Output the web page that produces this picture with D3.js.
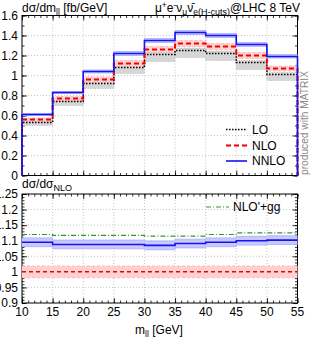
<!DOCTYPE html>
<html>
<head>
<meta charset="utf-8">
<script src="https://cdn.jsdelivr.net/npm/d3@7"></script>
<style>
  body { margin: 0; background: #fff; }
  text { font-family: "Liberation Sans", Arial, sans-serif; }
</style>
</head>
<body>
<script>
// bin edges in m_ll [GeV]
var edges = [10, 15, 20, 25, 30, 35, 40, 45, 50, 55]

// dsigma/dm_ll [fb/GeV]
var lo = [0.53, 0.74, 0.92, 1.08, 1.21, 1.25, 1.22, 1.13, 1.01]
var loLow = [0.50, 0.70, 0.87, 1.02, 1.14, 1.18, 1.15, 1.06, 0.95]
var loHigh = [0.545, 0.755, 0.94, 1.10, 1.235, 1.275, 1.245, 1.15, 1.03]
var nlo = [0.56, 0.77, 0.96, 1.12, 1.26, 1.32, 1.29, 1.20, 1.07]
var nloLow = [0.545, 0.75, 0.935, 1.09, 1.23, 1.29, 1.26, 1.17, 1.045]
var nloHigh = [0.575, 0.79, 0.985, 1.15, 1.29, 1.35, 1.32, 1.23, 1.095]
var nnlo = [0.61, 0.83, 1.04, 1.22, 1.35, 1.43, 1.40, 1.31, 1.19]
var nnloLow = [0.60, 0.82, 1.025, 1.20, 1.33, 1.41, 1.38, 1.29, 1.175]
var nnloHigh = [0.62, 0.84, 1.055, 1.24, 1.37, 1.45, 1.42, 1.33, 1.21]

// ratio to NLO
var ratioNLOLow = [0.981, 0.981, 0.981, 0.981, 0.981, 0.981, 0.981, 0.981, 0.981]
var ratioNLOHigh = [1.019, 1.019, 1.019, 1.019, 1.019, 1.019, 1.019, 1.019, 1.019]
var ratioNLO = [1, 1, 1, 1, 1, 1, 1, 1, 1]
var ratioNNLO = [1.095, 1.088, 1.088, 1.088, 1.085, 1.091, 1.095, 1.100, 1.102]
var ratioNNLOLow = [1.081, 1.074, 1.074, 1.074, 1.071, 1.077, 1.081, 1.086, 1.088]
var ratioNNLOHigh = [1.109, 1.102, 1.102, 1.102, 1.099, 1.105, 1.109, 1.114, 1.116]
var ratioGG = [1.120, 1.117, 1.117, 1.117, 1.115, 1.115, 1.120, 1.125, 1.125]

var xTicks = [10, 15, 20, 25, 30, 35, 40, 45, 50, 55]
var yTopTicks = [0, 0.2, 0.4, 0.6, 0.8, 1, 1.2, 1.4, 1.6]
var yBotTicks = [0.9, 0.95, 1, 1.05, 1.1, 1.15, 1.2, 1.25]

var W = 311, H = 340
var left = 22, right = 297.5
var svg = d3.select("body").append("svg").attr("width", W).attr("height", H)

var x = d3.scaleLinear().domain([10, 55]).range([left, right])
var yTop = d3.scaleLinear().domain([0, 1.6]).range([175.5, 15.5])
var yBot = d3.scaleLinear().domain([0.9, 1.25]).range([303, 194])

function bandPts(low, high) {
  var pts = low.map(function(v, i) { return [edges[i], v, high[i]] })
  pts.push([edges[edges.length - 1], low[low.length - 1], high[high.length - 1]])
  return pts
}

function fmt(d) { return String(+d.toFixed(2)) }

function panel(y, yTicks, yMinor, top, bottom, id) {
  var g = svg.append("g")
  g.append("clipPath").attr("id", id).append("rect")
    .attr("x", left - 2).attr("y", top).attr("width", right - left + 4).attr("height", bottom - top)

  // grid
  g.selectAll(".vg").data(xTicks.slice(1, -1)).enter().append("line")
    .attr("x1", function(d) { return x(d) }).attr("x2", function(d) { return x(d) })
    .attr("y1", top).attr("y2", bottom)
    .attr("stroke", "#b8b8b8").attr("stroke-width", 0.8).attr("stroke-dasharray", "1,2")
  g.selectAll(".hg").data(yTicks.slice(1, -1)).enter().append("line")
    .attr("x1", left).attr("x2", right)
    .attr("y1", function(d) { return y(d) }).attr("y2", function(d) { return y(d) })
    .attr("stroke", "#b8b8b8").attr("stroke-width", 0.8).attr("stroke-dasharray", "1,2")

  var xMinor = d3.range(10, 56, 1)
  g.append("g").attr("transform", "translate(0," + bottom + ")")
    .call(d3.axisBottom(x).tickValues(xMinor).tickSize(-2.5).tickFormat(""))
  g.append("g").attr("transform", "translate(0," + bottom + ")")
    .call(d3.axisBottom(x).tickValues(xTicks).tickSize(-5).tickFormat(""))
  g.append("g").attr("transform", "translate(0," + top + ")")
    .call(d3.axisTop(x).tickValues(xMinor).tickSize(-2.5).tickFormat(""))
  g.append("g").attr("transform", "translate(0," + top + ")")
    .call(d3.axisTop(x).tickValues(xTicks).tickSize(-5).tickFormat(""))
  g.append("g").attr("transform", "translate(" + left + ",0)")
    .call(d3.axisLeft(y).tickValues(yMinor).tickSize(-2.5).tickFormat(""))
  g.append("g").attr("transform", "translate(" + left + ",0)")
    .call(d3.axisLeft(y).tickValues(yTicks).tickSize(-5).tickPadding(4).tickFormat(fmt))
  g.append("g").attr("transform", "translate(" + right + ",0)")
    .call(d3.axisRight(y).tickValues(yMinor).tickSize(-2.5).tickFormat(""))
  g.append("g").attr("transform", "translate(" + right + ",0)")
    .call(d3.axisRight(y).tickValues(yTicks).tickSize(-5).tickFormat(""))

  g.selectAll(".domain").remove()
  g.selectAll(".tick line").attr("stroke", "#000").attr("stroke-width", 0.8)
  g.selectAll(".tick text").attr("font-size", 12).attr("fill", "#000")
    .attr("font-family", "Liberation Sans, Arial, sans-serif")

  // frame
  g.append("rect").attr("x", left).attr("y", top).attr("width", right - left).attr("height", bottom - top)
    .attr("fill", "none").attr("stroke", "#000").attr("stroke-width", 1)

  return g
}

function drawBand(g, y, low, high, fill, edge, dash, clip) {
  var area = d3.area().curve(d3.curveStepAfter)
    .x(function(d) { return x(d[0]) })
    .y0(function(d) { return y(d[1]) })
    .y1(function(d) { return y(d[2]) })
  var pts = bandPts(low, high)
  g.append("path").attr("d", area(pts)).attr("fill", fill).attr("clip-path", "url(#" + clip + ")")
  var l = d3.line().curve(d3.curveStepAfter).x(function(d) { return x(d[0]) })
  g.append("path").attr("d", l.y(function(d) { return y(d[1]) })(pts))
    .attr("fill", "none").attr("stroke", edge).attr("stroke-width", 0.8)
    .attr("stroke-dasharray", dash).attr("clip-path", "url(#" + clip + ")")
  g.append("path").attr("d", l.y(function(d) { return y(d[2]) })(pts))
    .attr("fill", "none").attr("stroke", edge).attr("stroke-width", 0.8)
    .attr("stroke-dasharray", dash).attr("clip-path", "url(#" + clip + ")")
}

// histogram as steps; in the top panel the outer edges drop to zero
function drawHist(g, y, vals, color, width, dash, toZero, clip) {
  var d = "M" + x(edges[0]) + "," + y(toZero ? 0 : vals[0])
  for (var i = 0; i < vals.length; i++) {
    d += "V" + y(vals[i]) + "H" + x(edges[i + 1])
  }
  if (toZero) d += "V" + y(0)
  g.append("path").attr("d", d)
    .attr("fill", "none").attr("stroke", color).attr("stroke-width", width)
    .attr("stroke-dasharray", dash).attr("clip-path", "url(#" + clip + ")")
}

// top panel
var gTop = panel(yTop, yTopTicks, d3.range(0, 1.61, 0.1), 15.5, 175.5, "clipTop")
drawBand(gTop, yTop, loLow, loHigh, "#d6d6d6", "#b4b4b4", "1,1.5", "clipTop")
drawBand(gTop, yTop, nloLow, nloHigh, "#ffd2d2", "#ffb0b0", "3,2", "clipTop")
drawBand(gTop, yTop, nnloLow, nnloHigh, "#c9c9ff", "#a8a8ff", "none", "clipTop")
drawHist(gTop, yTop, lo, "#000", 1.5, "1.5,1.5", true, "clipTop")
drawHist(gTop, yTop, nlo, "#f20000", 2, "5,3", true, "clipTop")
drawHist(gTop, yTop, nnlo, "#1414f0", 1.6, "none", true, "clipTop")

// bottom panel
var gBot = panel(yBot, yBotTicks, d3.range(0.9, 1.2501, 0.01), 194, 303, "clipBot")
drawBand(gBot, yBot, ratioNLOLow, ratioNLOHigh, "#ffd2d2", "#ffb0b0", "3,2", "clipBot")
drawBand(gBot, yBot, ratioNNLOLow, ratioNNLOHigh, "#c9c9ff", "#a8a8ff", "none", "clipBot")
drawHist(gBot, yBot, ratioGG, "#2e9a2e", 1.2, "5,2,1,2", false, "clipBot")
drawHist(gBot, yBot, ratioNLO, "#f20000", 1.5, "4,3", false, "clipBot")
drawHist(gBot, yBot, ratioNNLO, "#1414f0", 1.6, "none", false, "clipBot")

// x tick labels
svg.selectAll(".xl").data(xTicks).enter().append("text")
  .attr("x", function(d) { return x(d) }).attr("y", 316)
  .attr("text-anchor", "middle").attr("font-size", 12).text(function(d) { return d })

// titles
var t1 = svg.append("text").attr("x", 22).attr("y", 11.5).attr("font-size", 12)
t1.append("tspan").text("dσ/dm")
t1.append("tspan").attr("font-size", 8.5).attr("dy", 3).text("ll")
t1.append("tspan").attr("dy", -3).text(" [fb/GeV]")

var t2 = svg.append("text").attr("x", 300).attr("y", 11.5).attr("font-size", 12).attr("text-anchor", "end")
t2.append("tspan").text("μ")
t2.append("tspan").attr("font-size", 8.5).attr("dy", -4).text("+")
t2.append("tspan").attr("dy", 4).text("e")
t2.append("tspan").attr("font-size", 8.5).attr("dy", -4).text("-")
t2.append("tspan").attr("dy", 4).text("ν")
t2.append("tspan").attr("font-size", 8.5).attr("dy", 3).text("μ")
t2.append("tspan").attr("dy", -3).text("ν\u0304")
t2.append("tspan").attr("font-size", 8.5).attr("dy", 3).text("e")
t2.append("tspan").attr("font-size", 9).text("(H-cuts)")
t2.append("tspan").attr("dy", -3).text("@LHC 8 TeV")

var t3 = svg.append("text").attr("x", 22).attr("y", 188).attr("font-size", 12)
t3.append("tspan").text("dσ/dσ")
t3.append("tspan").attr("font-size", 9).attr("dy", 3).text("NLO")

var t4 = svg.append("text").attr("x", 159).attr("y", 333.5).attr("font-size", 12).attr("text-anchor", "middle")
t4.append("tspan").text("m")
t4.append("tspan").attr("font-size", 8.5).attr("dy", 3).text("ll")
t4.append("tspan").attr("dy", -3).text(" [GeV]")

// legends
var legTop = [
  {name: "LO", color: "#000", width: 1.5, dash: "1.5,1.5", y: 129.5},
  {name: "NLO", color: "#f20000", width: 2, dash: "5,3", y: 145.5},
  {name: "NNLO", color: "#1414f0", width: 1.6, dash: "none", y: 161}
]
legTop.forEach(function(d) {
  svg.append("line").attr("x1", 226).attr("x2", 247).attr("y1", d.y).attr("y2", d.y)
    .attr("stroke", d.color).attr("stroke-width", d.width).attr("stroke-dasharray", d.dash)
  svg.append("text").attr("x", 252).attr("y", d.y + 4.3).attr("font-size", 12).text(d.name)
})
svg.append("line").attr("x1", 206).attr("x2", 229).attr("y1", 207).attr("y2", 207)
  .attr("stroke", "#2e9a2e").attr("stroke-width", 1.2).attr("stroke-dasharray", "5,2,1,2")
svg.append("text").attr("x", 233).attr("y", 211.3).attr("font-size", 12).text("NLO'+gg")

// watermark
svg.append("text").attr("transform", "translate(307.5,175) rotate(-90)")
  .attr("font-family", "Liberation Mono, monospace").attr("font-size", 10.2)
  .attr("fill", "#8a8a8a").text("produced with MATRIX")
</script>
</body>
</html>
